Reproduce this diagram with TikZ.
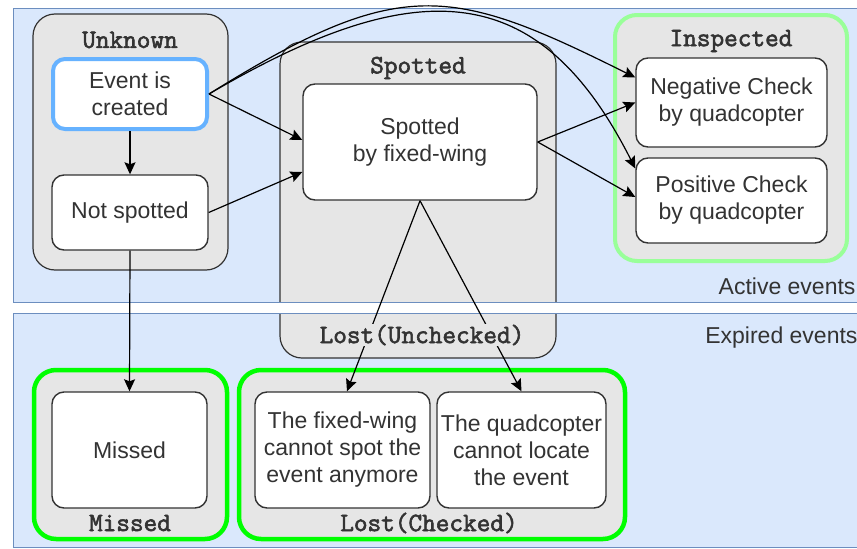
\documentclass[tikz,border=0pt]{standalone}
\usepackage{fontspec}
\setmainfont{Liberation Sans}
\setmonofont{Latin Modern Mono}[AutoFakeBold=2.2]
\usetikzlibrary{arrows.meta}
\definecolor{panelblue}{HTML}{DAE8FC}
\definecolor{paneledge}{HTML}{6C8EBF}
\definecolor{boxgray}{HTML}{E6E6E6}
\definecolor{lightgreen}{HTML}{99FF99}
\definecolor{brightgreen}{HTML}{00FF00}
\definecolor{skyblue}{HTML}{66B2FF}
\definecolor{textgray}{HTML}{333333}

\begin{document}
\begin{tikzpicture}[x=1pt, y=-1pt,
    font=\fontsize{23}{27}\selectfont,
    container/.style={draw=black!80, fill=boxgray, rounded corners=22pt, line width=1.2pt, inner sep=0pt},
    state/.style={draw=black!80, fill=white, rounded corners=12pt, line width=1.4pt, align=center, text=textgray, inner sep=1pt},
    title/.style={font=\fontsize{26.5}{28}\selectfont\ttfamily\bfseries, text=textgray},
    arr/.style={-{Stealth[length=12pt, width=11pt, inset=2pt]}, line width=1.2pt}]
            \clip (0,0) rectangle (857,549);

            % panels
            \draw[fill=panelblue, draw=paneledge] (13,8) rectangle (880,302);
            \draw[fill=panelblue, draw=paneledge] (13,313) rectangle (880,547);
            \node[anchor=east, text=textgray] (activelbl) at (859,286) {Active events};
            \node[anchor=east, text=textgray] (expiredlbl) at (861,338) {Expired events};

            % containers
            \node[container, minimum width=195pt, minimum height=256pt] (unknown) at (130.5,142) {};
            \node[container, minimum width=276pt, minimum height=316pt] (spotted) at (418,200) {};
            \node[container, draw=lightgreen, line width=4pt, minimum width=232pt, minimum height=246pt] (inspected) at (731,138) {};
            \node[container, draw=brightgreen, line width=4.5pt, minimum width=193pt, minimum height=169pt] (missedbox) at (130.5,454.5) {};
            \node[container, draw=brightgreen, line width=4.5pt, minimum width=386pt, minimum height=169pt] (checked) at (432,454.5) {};

            % gap between the panels
            \fill[white] (13,302) rectangle (880,313);
            \draw[paneledge] (13,302) -- (880,302);
            \draw[paneledge] (13,313) -- (880,313);

            \node[title] (unknowntitle) at (130,40) {Unknown};
            \node[title] (spottedtitle) at (418,68) {Spotted};
            \node[title] (inspectedtitle) at (731,41) {Inspected};
            \node[title] (missedtitle) at (130,523) {Missed};
            \node[title] (checkedtitle) at (429,523) {Lost(Checked)};

            % states
            \node[state, draw=skyblue, line width=4pt, minimum width=154pt, minimum height=70pt] (created) at (130,94) {Event is\\created};
            \node[state, minimum width=156pt, minimum height=75pt] (notspotted) at (130,212.5) {Not spotted};
            \node[state, minimum width=234pt, minimum height=116pt] (fixed) at (420,142) {Spotted\\by fixed-wing};
            \node[state, minimum width=191pt, minimum height=89pt] (neg) at (731.5,102.5) {Negative Check\\by quadcopter};
            \node[state, minimum width=191pt, minimum height=85pt] (pos) at (731.5,200.5) {Positive Check\\by quadcopter};
            \node[state, minimum width=155pt, minimum height=116pt] (missed) at (129.5,450) {Missed};
            \node[state, minimum width=175pt, minimum height=116pt] (fixedlost) at (342.5,450) {The fixed-wing\\cannot spot the\\event anymore};
            \node[state, minimum width=169pt, minimum height=116pt] (quadlost) at (521.5,450) {The quadcopter\\cannot locate\\the event};

            % transitions
            \draw[arr] (created) -- (notspotted);
            \draw[arr] (created.east) -- ([yshift=2pt]fixed.west);
            \draw[arr] (notspotted.east) -- ([yshift=-30pt]fixed.west);
            \draw[arr] (created.east) .. controls (400,-25) and (450,-15) .. ([yshift=25pt]neg.west);
            \draw[arr] (created.east) .. controls (420,-30) and (540,-20) .. ([yshift=32pt]pos.west);
            \draw[arr] (fixed.east) -- (neg.west);
            \draw[arr] (fixed.east) -- ([yshift=3.5pt]pos.west);
            \draw[arr] (notspotted.south) -- (missed.north);
            \draw[arr] (fixed.south) -- ([xshift=4.5pt]fixedlost.north);
            \draw[arr] (fixed.south) -- (quadlost.north);

            \node[title, fill=boxgray, inner sep=1pt] (unchecked) at (422,335) {Lost(Unchecked)};
        \end{tikzpicture}
\end{document}
